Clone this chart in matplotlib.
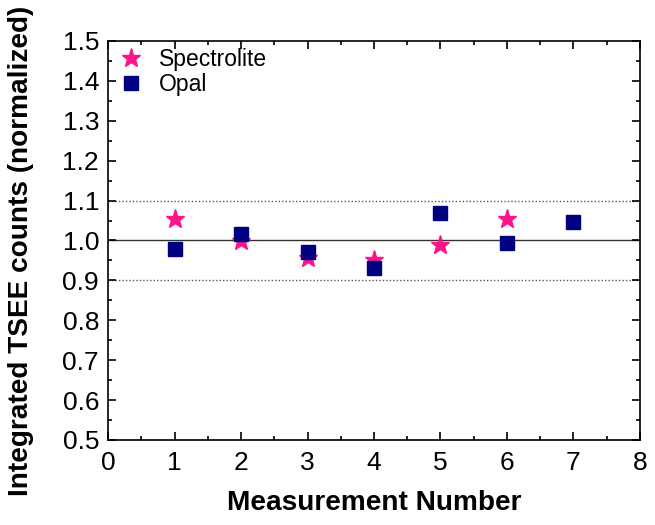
import matplotlib.pyplot as plt
from matplotlib.ticker import MultipleLocator

plt.rcParams['font.family'] = ['Liberation Sans', 'DejaVu Sans']

# measurement number vs normalised integrated TSEE counts
spec_x = [1, 2, 3, 4, 5, 6]
spec_y = [1.055, 0.999, 0.956, 0.952, 0.989, 1.054]
opal_x = [1, 2, 3, 4, 5, 6, 7]
opal_y = [0.979, 1.017, 0.971, 0.930, 1.070, 0.994, 1.046]

fig = plt.figure(figsize=(6.55, 5.25), dpi=100)
ax = fig.add_axes([0.165, 0.162, 0.812, 0.760])

ax.axhline(1.0, color='#333333', lw=1.0, zorder=1)
ax.axhline(1.1, color='#555555', lw=1.0, ls=(0, (1, 1.5)), zorder=1)
ax.axhline(0.9, color='#555555', lw=1.0, ls=(0, (1, 1.5)), zorder=1)

ax.plot(spec_x, spec_y, ls='none', marker='*', ms=14, color='#FF1388',
        mec='#FF1388', label='Spectrolite', zorder=3)
ax.plot(opal_x, opal_y, ls='none', marker='s', ms=9.5, color='#000080',
        label='Opal', zorder=3)

ax.set_xlim(0, 8)
ax.set_ylim(0.5, 1.5)
ax.xaxis.set_major_locator(MultipleLocator(1))
ax.xaxis.set_minor_locator(MultipleLocator(0.5))
ax.yaxis.set_major_locator(MultipleLocator(0.1))
ax.yaxis.set_minor_locator(MultipleLocator(0.05))
ax.tick_params(which='both', direction='in', top=True, right=True, width=1.2)
ax.tick_params(which='major', length=6, labelsize=19, pad=6.5)
ax.tick_params(axis='x', which='major', pad=8)
ax.tick_params(which='minor', length=3)
for s in ax.spines.values():
    s.set_linewidth(1.2)

ax.set_xlabel('Measurement Number', fontsize=20.2, fontweight='bold', labelpad=11)
ax.set_ylabel('Integrated TSEE counts (normalized)', fontsize=20.2,
              fontweight='bold')
ax.yaxis.set_label_coords(-0.14, 0.474)

ax.legend(loc='upper left', frameon=False, fontsize=16.5, handletextpad=0.6,
          borderaxespad=0.0, labelspacing=0.1, handlelength=1.2,
          bbox_to_anchor=(0.0, 1.005))

fig.savefig('out.png', dpi=100)
